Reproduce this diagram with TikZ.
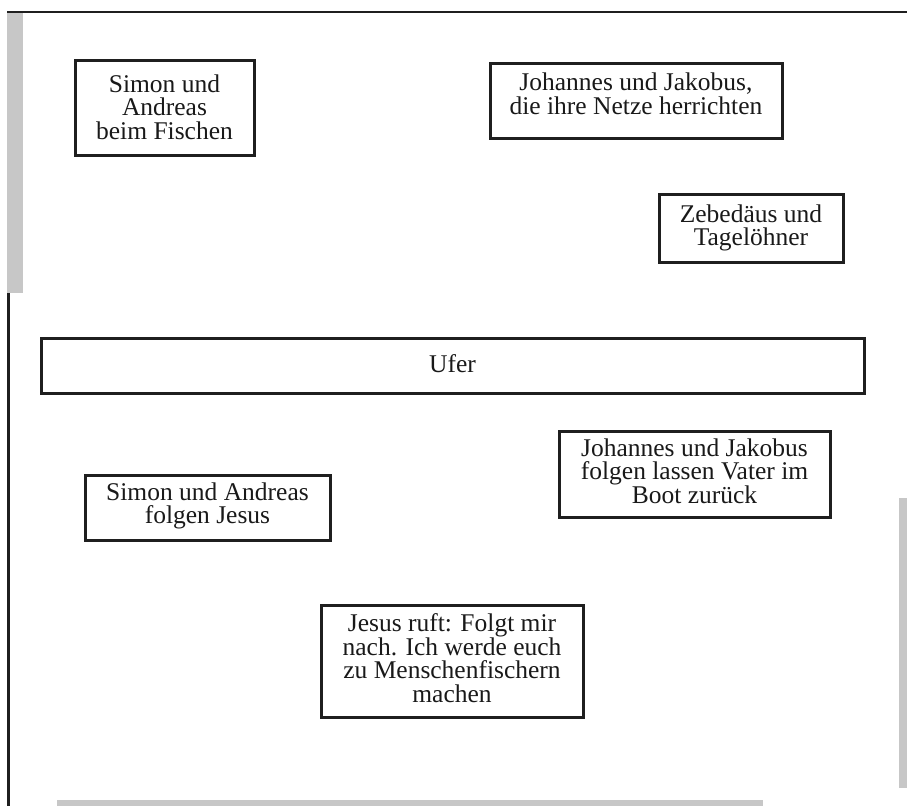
\documentclass[tikz,border=0pt]{standalone}
\usepackage{fontspec}
\setmainfont{Liberation Serif}
\begin{document}
\begin{tikzpicture}[x=1pt,y=-1pt,
  boxframe/.style={draw=black!88,line width=3pt},
  boxtext/.style={align=center,inner sep=0pt,font=\fontsize{25.5}{23.5}\selectfont,text=black!90},
  graybar/.style={fill=black!22,draw=none},
  blackline/.style={draw=black!88,line width=2.6pt}]
\useasboundingbox (0,0) rectangle (907,806);
% gray bars
\fill[graybar] (7,13) rectangle (23,293);
\fill[graybar] (899,498) rectangle (907,788);
\fill[graybar] (57,800) rectangle (763,806);
% frame lines
\coordinate (tl) at (7,12);
\coordinate (tr) at (907,12);
\coordinate (lt) at (8.5,293);
\coordinate (lb) at (8.5,806);
\draw[blackline] (tl) -- (tr);
\draw[blackline,line width=3pt] (lt) -- (lb);
% boxes
\draw[boxframe] (75,60) rectangle (254,155);
\node[boxtext] (t1) at (164.5,107) {Simon und\\Andreas\\beim Fischen};
\draw[boxframe] (490,63) rectangle (782,138);
\node[boxtext] (t2) at (636,94) {Johannes und Jakobus,\\die ihre Netze herrichten};
\draw[boxframe] (659,194) rectangle (843,262);
\node[boxtext] (t3) at (751,228) {Zebedäus und\\Tagelöhner};
\draw[boxframe] (41,338) rectangle (864,393);
\node[boxtext] (t4) at (452.5,364) {Ufer};
\draw[boxframe] (559,431) rectangle (830,517);
\node[boxtext] (t5) at (694.5,471) {Johannes und Jakobus\\folgen lassen Vater im\\Boot zurück};
\draw[boxframe] (85,475) rectangle (330,540);
\node[boxtext] (t6) at (207.5,506) {Simon und Andreas\\folgen Jesus};
\draw[boxframe] (321,605) rectangle (583,717);
\node[boxtext] (t7) at (452,658) {Jesus ruft: Folgt mir\\nach. Ich werde euch\\zu Menschenfischern\\machen};
\end{tikzpicture}
\end{document}
